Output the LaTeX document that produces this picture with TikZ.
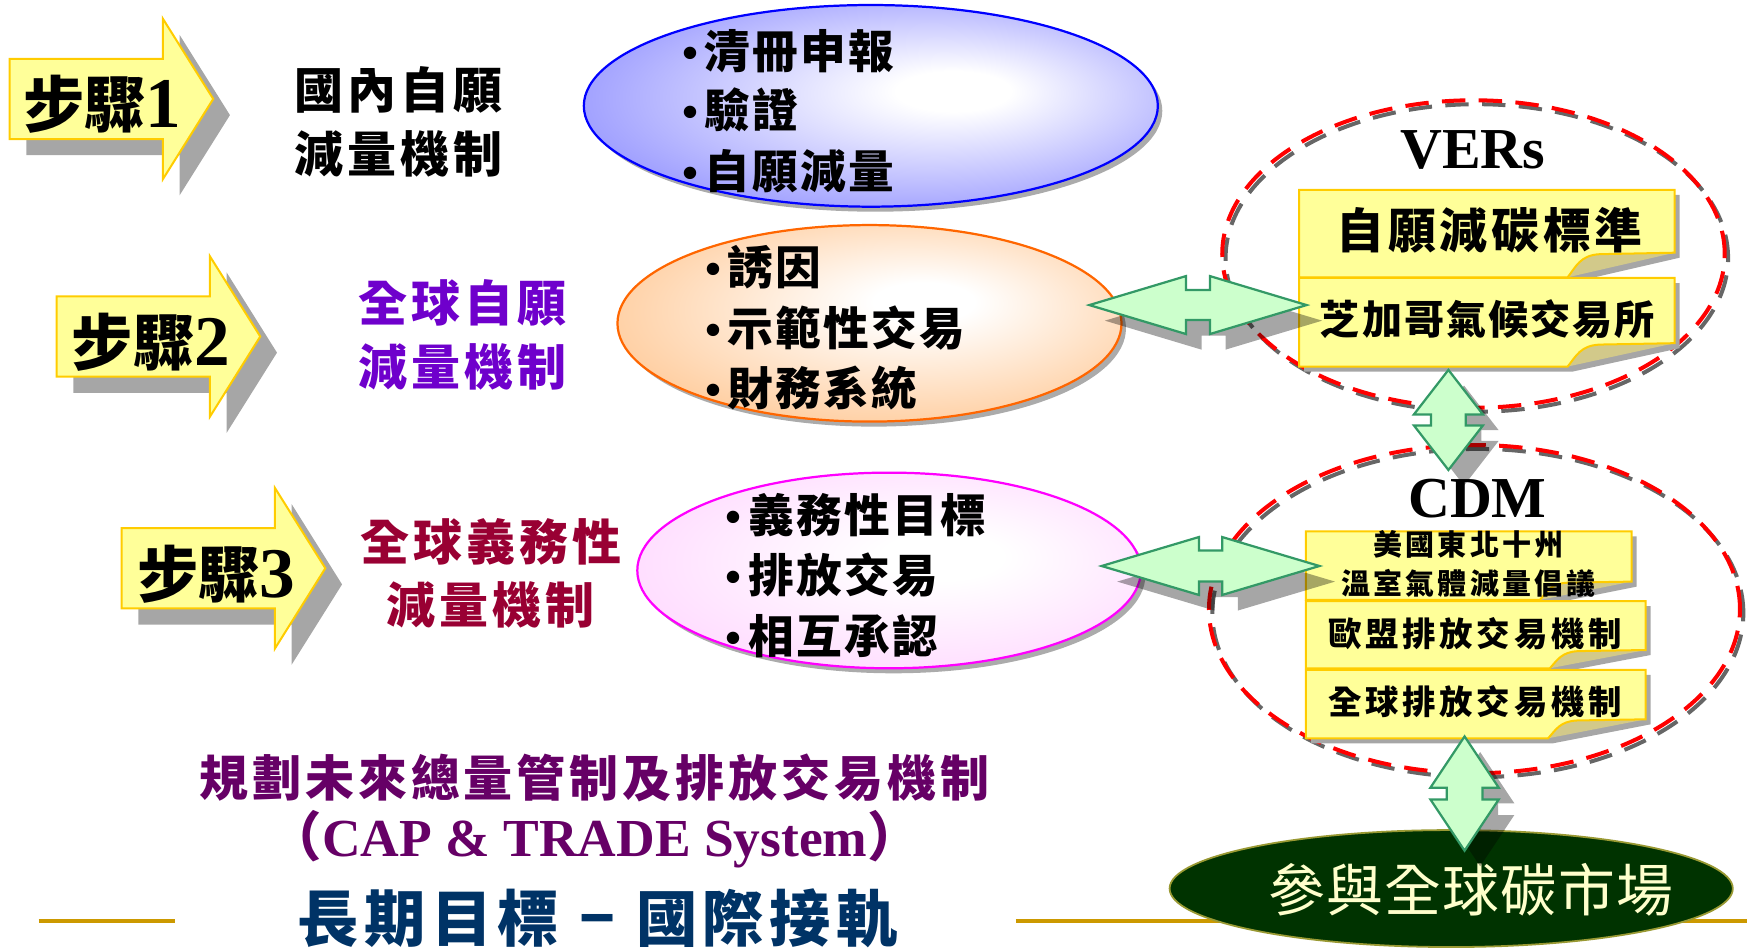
\documentclass[tikz,border=0pt]{standalone}
\usepackage{fontspec}
\usepackage{graphicx}
\setmainfont{Liberation Serif}
\newfontfamily\cjk{Noto Sans CJK TC}
\usetikzlibrary{shapes.geometric,shadows}

\definecolor{stepyellow}{HTML}{FFFF99}
\definecolor{stepgold}{HTML}{FFCC00}
\definecolor{shadowgray}{HTML}{A6A6A6}
\definecolor{ellblue}{HTML}{9494FF}
\definecolor{ellblueline}{HTML}{0000FF}
\definecolor{ellorange}{HTML}{FFC793}
\definecolor{ellorangeline}{HTML}{FF6600}
\definecolor{ellpink}{HTML}{FFD2FF}
\definecolor{ellpinkline}{HTML}{FF00FF}
\definecolor{violettext}{HTML}{6F00CC}
\definecolor{crimsontext}{HTML}{990033}
\definecolor{plumtext}{HTML}{660066}
\definecolor{navytext}{HTML}{003366}
\definecolor{goldline}{HTML}{CC9900}
\definecolor{arrowgreen}{HTML}{CCFFCC}
\definecolor{arrowgreenline}{HTML}{339966}
\definecolor{foldkhaki}{HTML}{D2C98A}
\definecolor{darkgreen}{HTML}{003300}
\definecolor{darkgreenline}{HTML}{999933}
\definecolor{cream}{HTML}{FFFFCC}
\definecolor{dashred}{HTML}{FF0000}
\definecolor{dashgray}{HTML}{666666}

\pgfdeclareradialshading{blueglow}{\pgfpoint{8bp}{4bp}}{color(0bp)=(white);color(5bp)=(white);color(32bp)=(ellblue);color(50bp)=(ellblue)}
\pgfdeclareradialshading{orangeglow}{\pgfpoint{6bp}{6bp}}{color(0bp)=(white);color(5bp)=(white);color(33bp)=(ellorange);color(50bp)=(ellorange)}
\pgfdeclareradialshading{pinkglow}{\pgfpoint{6bp}{4bp}}{color(0bp)=(white);color(6bp)=(white);color(36bp)=(ellpink);color(50bp)=(ellpink)}

\newcommand\fs[2]{\fontsize{#1}{#2}\selectfont}
\newcommand\stepdigit[1]{{\rmfamily\bfseries\fontsize{32pt}{32pt}\selectfont #1}}
\newcommand\bul{{\rmfamily\bfseries •}\hspace{3pt}}

\tikzset{
  stepbox/.style={fill=stepyellow, draw=stepgold, line width=0.9pt, line join=miter},
  stepshadow/.style={fill=shadowgray},
  steplabel/.style={inner sep=0pt, font=\fs{27.5pt}{30pt}\cjk\bfseries},
  sidelabel/.style={inner sep=0pt, align=center, font=\fs{22pt}{28.5pt}\cjk\bfseries\addfontfeature{LetterSpace=8}},
  bulletline/.style={inner sep=0pt, anchor=west, font=\fs{20.5pt}{24pt}\cjk\bfseries\addfontfeature{LetterSpace=5}},
  bubble/.style={ellipse, inner sep=0pt, line width=1pt, shade,
     drop shadow={shadow xshift=2pt, shadow yshift=-2.25pt, fill=black, opacity=.33}},
  dashring/.style={draw=dashred, line width=1.8pt, dash pattern=on 10.5pt off 6pt},
  dashringshadow/.style={draw=dashgray, line width=1.8pt, dash pattern=on 10.5pt off 6pt},
  notefill/.style={fill=stepyellow},
  noteline/.style={draw=stepgold, line width=0.9pt},
  noteshadow/.style={fill=shadowgray},
  notefold/.style={fill=foldkhaki},
  latinhead/.style={inner sep=0pt, font=\fs{26pt}{30pt}\bfseries},
  blockarrow/.style={fill=arrowgreen, draw=arrowgreenline, line width=1pt, line join=miter},
  blockshadow/.style={fill=black, fill opacity=.35},
}

% step arrow: name, left x, centre y
\newcommand\stepshape[3]{%
  \coordinate (#1) at (#2,#3);
  \fill[stepshadow, shift={(#1)}, xshift=7.5pt, yshift=-7.25pt]
    (0,-36) -- (137.6,-36) -- (137.6,-72) -- (182.8,0) -- (137.6,72) -- (137.6,36) -- (0,36) -- cycle;
  \filldraw[stepbox, shift={(#1)}]
    (0,-36) -- (137.6,-36) -- (137.6,-72) -- (182.8,0) -- (137.6,72) -- (137.6,36) -- (0,36) -- cycle;
}

% folded note box: L T R B Rb Xf
\newcommand\notebox[6]{%
  \fill[noteshadow] (#1+4.5,#2+4.5) -- (#3+4.5,#2+4.5) -- (#3+4.5,#5+4.5) -- (#6+4.5,#4+4.5) -- (#1+4.5,#4+4.5) -- cycle;
  \fill[notefill] (#1,#2) -- (#3,#2) -- (#3,#5) -- ({#6+0.3*(#3-#6)},{#5+0.06*(#4-#5)})
     .. controls ({#6+0.12*(#3-#6)},{#5+0.1*(#4-#5)}) and ({#6+0.08*(#3-#6)},{#4-0.45*(#4-#5)}) .. (#6,#4)
     -- (#1,#4) -- cycle;
  \fill[notefold] (#3,#5) -- ({#6+0.3*(#3-#6)},{#5+0.06*(#4-#5)})
     .. controls ({#6+0.12*(#3-#6)},{#5+0.1*(#4-#5)}) and ({#6+0.08*(#3-#6)},{#4-0.45*(#4-#5)}) .. (#6,#4) -- cycle;
  \draw[noteline] (#1,#2) -- (#3,#2) -- (#3,#5) -- ({#6+0.3*(#3-#6)},{#5+0.06*(#4-#5)})
     .. controls ({#6+0.12*(#3-#6)},{#5+0.1*(#4-#5)}) and ({#6+0.08*(#3-#6)},{#4-0.45*(#4-#5)}) .. (#6,#4)
     -- (#1,#4) -- cycle;
}

% block double arrow: name, cx, cy, rotation, half length, head length, head half width, shaft half width
\newcommand\dblarrow[8]{%
  \coordinate (#1) at (#2,#3);
  \fill[blockshadow, shift={(#1)}, xshift=7pt, yshift=-7pt, rotate=#4]
    (-#5,0) -- (-#5+#6,-#7) -- (-#5+#6,-#8) -- (#5-#6,-#8) -- (#5-#6,-#7) -- (#5,0)
    -- (#5-#6,#7) -- (#5-#6,#8) -- (-#5+#6,#8) -- (-#5+#6,#7) -- cycle;
  \filldraw[blockarrow, shift={(#1)}, rotate=#4]
    (-#5,0) -- (-#5+#6,-#7) -- (-#5+#6,-#8) -- (#5-#6,-#8) -- (#5-#6,-#7) -- (#5,0)
    -- (#5-#6,#7) -- (#5-#6,#8) -- (-#5+#6,#8) -- (-#5+#6,#7) -- cycle;
}

\begin{document}
\begin{tikzpicture}[x=0.5pt,y=-0.5pt]
\useasboundingbox (0,0) rectangle (1568,853);

% gold rules
\coordinate (gl1) at (34.6,826.5);
\coordinate (gl2) at (157,826.5);
\coordinate (gr1) at (911.7,826.5);
\coordinate (gr2) at (1568,826.5);
\draw[goldline, line width=1.8pt] (gl1) -- (gl2);
\draw[goldline, line width=1.8pt] (gr1) -- (gr2);

% step arrows
\stepshape{st1}{8.6}{88.8}
\stepshape{st2}{50.8}{302}
\stepshape{st3}{109.2}{510}
\node[steplabel] (st1t) at (92,94) {步驟\stepdigit{1}};
\node[steplabel] (st2t) at (135.5,307) {步驟\stepdigit{2}};
\node[steplabel] (st3t) at (194,515) {步驟\stepdigit{3}};

% step descriptions
\node[sidelabel] (lab1) at (357.5,109.5) {國內自願\\減量機制};
\node[sidelabel, text=violettext] (lab2) at (415,300.5) {全球自願\\減量機制};
\node[sidelabel, text=crimsontext] (lab3) at (440.5,514.5) {全球義務性\\減量機制};

% bubbles
\node[bubble, shading=blueglow, draw=ellblueline, minimum width=257.6pt, minimum height=90.5pt] (e1) at (781.6,95) {};
\node[bubble, shading=orangeglow, draw=ellorangeline, minimum width=226.2pt, minimum height=88.2pt] (e2) at (780.4,290.2) {};
\node[bubble, shading=pinkglow, draw=ellpinkline, minimum width=226pt, minimum height=87.8pt] (e3) at (798,512) {};

\node[bulletline] (b11) at (612,45.5) {\bul 清冊申報};
\node[bulletline] (b12) at (612,99) {\bul 驗證};
\node[bulletline] (b13) at (612,154) {\bul 自願減量};
\node[bulletline] (b21) at (632.5,240) {\bul 誘因};
\node[bulletline] (b22) at (632.5,294.6) {\bul 示範性交易};
\node[bulletline] (b23) at (632.5,348.5) {\bul 財務系統};
\node[bulletline] (b31) at (650.8,462) {\bul 義務性目標};
\node[bulletline] (b32) at (650.8,516.5) {\bul 排放交易};
\node[bulletline] (b33) at (650.8,571) {\bul 相互承認};

% dashed rings
\coordinate (vring) at (1322.5,228);
\coordinate (cring) at (1323.4,546.7);
\draw[dashringshadow] ([shift={(3,3.5)}]vring) ellipse [x radius=112.75pt, y radius=69pt];
\draw[dashring] (vring) ellipse [x radius=112.75pt, y radius=69pt];
\draw[dashringshadow] ([shift={(3,3.5)}]cring) ellipse [x radius=119.15pt, y radius=73.65pt];
\draw[dashring] (cring) ellipse [x radius=119.15pt, y radius=73.65pt];

\node[latinhead] (vers) at (1322,135) {VERs};
\node[latinhead] (cdm) at (1326,447.3) {CDM};

% note boxes
\notebox{1166}{170.5}{1503}{248.9}{226.8}{1407}
\notebox{1166}{249.5}{1503}{329}{308}{1407}
\notebox{1172}{477}{1464.5}{538.5}{522}{1382}
\notebox{1172}{539.5}{1477}{599.8}{583.4}{1391}
\notebox{1172}{601.3}{1477}{662.6}{645.6}{1389.5}

\node[inner sep=0pt, font=\fs{21.5pt}{24pt}\cjk\bfseries\addfontfeature{LetterSpace=8}] (vt1) at (1337,207) {自願減碳標準};
\node[inner sep=0pt, font=\fs{18pt}{22pt}\cjk\bfseries\addfontfeature{LetterSpace=5}] (vt2) at (1335,286) {芝加哥氣候交易所};
\node[inner sep=0pt, align=center, font=\fs{13pt}{17.6pt}\cjk\bfseries\addfontfeature{LetterSpace=11}] (ct1) at (1318,506) {美國東北十州\\溫室氣體減量倡議};
\node[inner sep=0pt, font=\fs{15pt}{18pt}\cjk\bfseries\addfontfeature{LetterSpace=11}] (ct2) at (1324,568.5) {歐盟排放交易機制};
\node[inner sep=0pt, font=\fs{15pt}{18pt}\cjk\bfseries\addfontfeature{LetterSpace=11}] (ct3) at (1324,629.7) {全球排放交易機制};

% connectors
\dblarrow{ar1}{1075.2}{273.8}{0}{97.5}{86.7}{26}{13.5}
\dblarrow{ar2}{1086.5}{508}{0}{97.75}{87.3}{26}{14}
\dblarrow{ar3}{1300}{376.9}{90}{44.9}{40}{31}{15.6}

% carbon market
\node[ellipse, inner sep=0pt, minimum width=252.75pt, minimum height=52.5pt, fill=darkgreen, draw=darkgreenline, line width=0.8pt] (market) at (1302.5,797.5) {};
\node[inner sep=0pt, text=cream, font=\fs{25.5pt}{30pt}\cjk\addfontfeature{LetterSpace=2}] (markett) at (1320,799) {參與全球碳市場};
\dblarrow{ar4}{1314.5}{712.25}{90}{51.25}{46}{30.7}{16}

% bottom texts
\node[inner sep=0pt, text=plumtext, font=\fs{22pt}{26pt}\cjk\bfseries\addfontfeature{LetterSpace=8}] (plan) at (533.5,698) {規劃未來總量管制及排放交易機制};
\node[inner sep=0pt, text=plumtext, font=\fs{24pt}{26pt}\bfseries] (cap) at (534,753) {{\cjk （}CAP \& TRADE System{\cjk ）}};
\node[inner sep=0pt, text=navytext, font=\fs{27.5pt}{30pt}\cjk\bfseries\addfontfeature{LetterSpace=9}] (goal) at (536.5,824.5) {長期目標\makebox[34.5pt]{\scalebox{0.72}[1]{－}}國際接軌};
\end{tikzpicture}
\end{document}
